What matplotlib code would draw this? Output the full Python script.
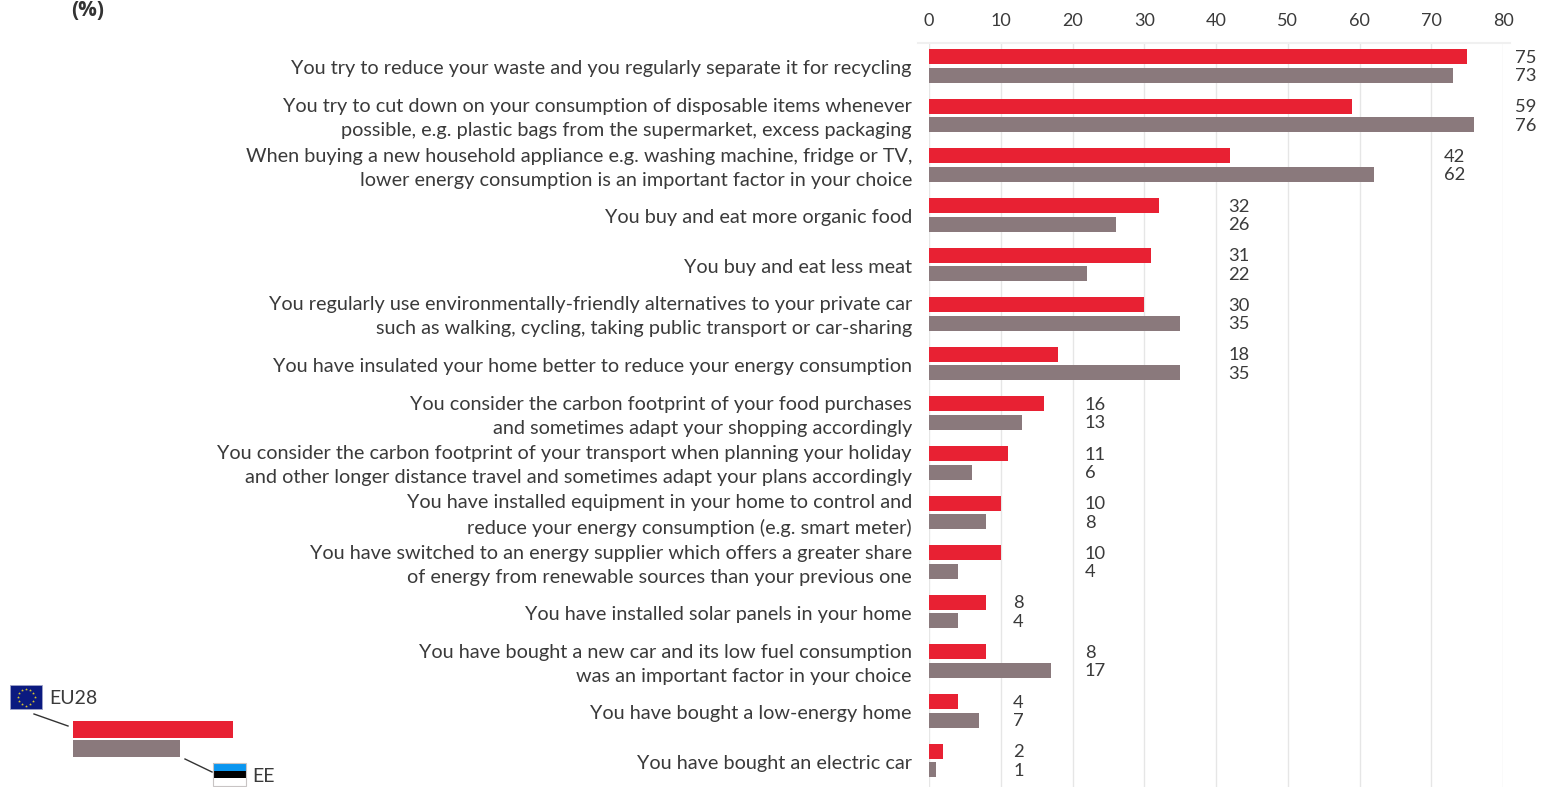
import math
import matplotlib
matplotlib.use("Agg")
import matplotlib.pyplot as plt
from matplotlib.patches import Rectangle

categories = [
    "You try to reduce your waste and you regularly separate it for recycling",
    "You try to cut down on your consumption of disposable items whenever\npossible, e.g. plastic bags from the supermarket, excess packaging",
    "When buying a new household appliance e.g. washing machine, fridge or TV,\nlower energy consumption is an important factor in your choice",
    "You buy and eat more organic food",
    "You buy and eat less meat",
    "You regularly use environmentally-friendly alternatives to your private car\nsuch as walking, cycling, taking public transport or car-sharing",
    "You have insulated your home better to reduce your energy consumption",
    "You consider the carbon footprint of your food purchases\nand sometimes adapt your shopping accordingly",
    "You consider the carbon footprint of your transport when planning your holiday\nand other longer distance travel and sometimes adapt your plans accordingly",
    "You have installed equipment in your home to control and\nreduce your energy consumption (e.g. smart meter)",
    "You have switched to an energy supplier which offers a greater share\nof energy from renewable sources than your previous one",
    "You have installed solar panels in your home",
    "You have bought a new car and its low fuel consumption\nwas an important factor in your choice",
    "You have bought a low-energy home",
    "You have bought an electric car",
]
eu28 = [75, 59, 42, 32, 31, 30, 18, 16, 11, 10, 10, 8, 8, 4, 2]
ee = [73, 76, 62, 26, 22, 35, 35, 13, 6, 8, 4, 4, 17, 7, 1]
x_ticks = [0, 10, 20, 30, 40, 50, 60, 70, 80]

RED, GRAY, TXT = "#E82133", "#8A797C", "#3A3A3A"
W, H = 1555, 787
plt.rcParams["font.family"] = ["Lato", "DejaVu Sans"]
plt.rcParams["font.weight"] = "normal"

fig = plt.figure(figsize=(W / 100, H / 100), dpi=100, facecolor="white")
x0, x1, y0, y1 = 929, 1503, 43, 787
ax = fig.add_axes([x0 / W, 1 - y1 / H, (x1 - x0) / W, (y1 - y0) / H])
ax.set_xlim(0, 80)
pitch = 49.6
ax.set_ylim((y1 - 66) / pitch, (y0 - 66) / pitch)
for s in ax.spines.values():
    s.set_visible(False)
ax.set_axisbelow(True)
ax.xaxis.grid(True, color="#E6E6E6", lw=1)
ax.yaxis.grid(False)
ax.set_xticks(x_ticks)
ax.xaxis.tick_top()
ax.tick_params(axis="x", length=0, pad=10, labelsize=13, labelcolor=TXT)
ax.set_yticks([])

ys = list(range(len(categories)))
ax.barh([y - 0.187 for y in ys], eu28, height=0.30, color=RED, edgecolor="none", zorder=3)
ax.barh([y + 0.187 for y in ys], ee, height=0.30, color=GRAY, edgecolor="none", zorder=3)

for y, a, b, label in zip(ys, eu28, ee, categories):
    lx = math.floor(max(a, b) / 10) * 10 + 12
    for yy, v in ((y - 0.187, a), (y + 0.187, b)):
        ax.annotate(str(v), xy=(lx, yy), xytext=(-2, -1), textcoords="offset pixels",
                    va="center", ha="left", fontsize=13.2, color=TXT, annotation_clip=False)
    ax.annotate(label, xy=(0, y), xytext=(-17, -3), textcoords="offset pixels",
                ha="right", va="center", fontsize=14.35, color=TXT, linespacing=1.5, annotation_clip=False)

# overlay in pixel coordinates for decorations
ov = fig.add_axes([0, 0, 1, 1], zorder=5)
ov.set_xlim(0, W)
ov.set_ylim(H, 0)
ov.axis("off")
ov.patch.set_alpha(0)
ov.plot([918, 1510], [43, 43], color="#F0F0F0", lw=1.5, zorder=1)
ov.text(71, 11, "(%)", fontsize=15, fontweight="bold", family=["Open Sans", "DejaVu Sans"],
        color="#333333", ha="left", va="center")

# legend
ov.add_patch(Rectangle((73, 721), 160, 17, color=RED, lw=0))
ov.add_patch(Rectangle((73, 740), 107, 17, color=GRAY, lw=0))
ov.plot([34, 68], [714, 726], color="#333333", lw=1)
ov.plot([185, 212], [759, 772], color="#333333", lw=1)
ov.add_patch(Rectangle((10, 685), 32, 24, facecolor="#0B1A80", edgecolor="#9FA3C8", lw=0.6))
star_x = [26 + 8.5 * math.cos(i * math.pi / 6) for i in range(12)]
star_y = [697 + 8.5 * math.sin(i * math.pi / 6) for i in range(12)]
ov.scatter(star_x, star_y, s=2.2, color="#E8D22A", marker="*", linewidths=0.2)
ov.text(49, 699, "EU28", fontsize=14, color=TXT, ha="left", va="center")
ov.add_patch(Rectangle((213, 763), 33, 7.5, color="#0A96F0", lw=0))
ov.add_patch(Rectangle((213, 770.5), 33, 7.5, color="black", lw=0))
ov.add_patch(Rectangle((213, 763), 33, 22.5, facecolor="none", edgecolor="#C8C4C4", lw=0.8))
ov.text(252, 776, "EE", fontsize=14, color=TXT, ha="left", va="center")

fig.savefig("out.png", dpi=100, facecolor="white")
